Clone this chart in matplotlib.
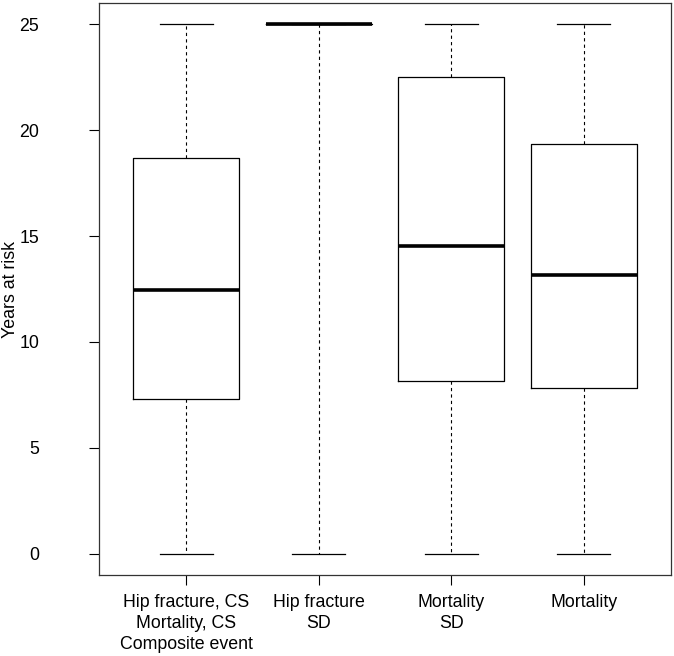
import matplotlib
matplotlib.use("Agg")
import matplotlib.pyplot as plt

plt.rcParams["font.family"] = ["Liberation Sans", "DejaVu Sans"]

# Data
labels = ["Hip fracture, CS\nMortality, CS\nComposite event", "Hip fracture\nSD", "Mortality\nSD", "Mortality"]
whislo = [0, 0, 0, 0]
q1 = [7.29, 25, 8.17, 7.81]
med = [12.47, 25, 14.53, 13.15]
q3 = [18.7, 25, 22.51, 19.33]
whishi = [25, 25, 25, 25]
yticks = [0, 5, 10, 15, 20, 25]

stats = [
    {"whislo": lo, "q1": a, "med": m, "q3": b, "whishi": hi, "fliers": []}
    for lo, a, m, b, hi in zip(whislo, q1, med, q3, whishi)
]

fig = plt.figure(figsize=(6.74, 6.56), dpi=100)
ax = fig.add_axes([99 / 674, 81 / 656, 572 / 674, 572 / 656])

ax.bxp(
    stats,
    positions=range(1, len(stats) + 1),
    widths=0.8,
    showfliers=False,
    boxprops={"color": "black", "linewidth": 0.9},
    medianprops={"color": "black", "linewidth": 2.6, "solid_capstyle": "butt"},
    whiskerprops={"color": "black", "linewidth": 0.8, "linestyle": (0, (2.9, 2.9))},
    capprops={"color": "black", "linewidth": 0.9},
    capwidths=0.4,
)

fs = 12.8
ax.set_xlim(0.341, 4.659)
ax.set_ylim(-1, 26)
ax.set_yticks(yticks)
ax.set_xticks(range(1, len(labels) + 1))
ax.set_xticklabels(labels, fontsize=fs, linespacing=1.3)
ax.tick_params(axis="y", length=7, width=0.8, pad=36, labelsize=fs)
ax.tick_params(axis="x", length=7, width=0.8, pad=7)
for lab in ax.get_yticklabels():
    lab.set_horizontalalignment("right")
for s in ax.spines.values():
    s.set_linewidth(0.9)
    s.set_color("#333333")

ax.set_ylabel("Years at risk", fontsize=fs)
ax.yaxis.set_label_coords(-0.140, 0.5)

fig.savefig("out.png", dpi=100)
